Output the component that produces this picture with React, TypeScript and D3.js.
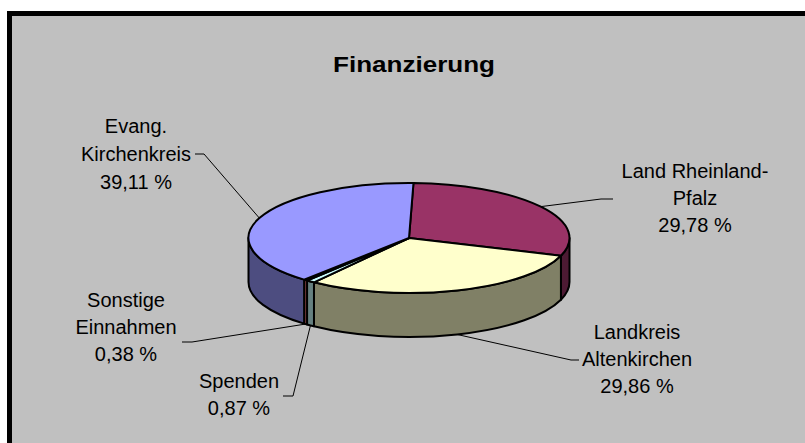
import React from "react";
import * as d3 from "d3";

const categories = ["Land Rheinland-Pfalz", "Landkreis Altenkirchen", "Spenden", "Sonstige Einnahmen", "Evang. Kirchenkreis"];
const values = [29.78, 29.86, 0.87, 0.38, 39.11];
const valueLabels = ["29,78 %", "29,86 %", "0,87 %", "0,38 %", "39,11 %"];
const nameLines = [["Land Rheinland-", "Pfalz"], ["Landkreis", "Altenkirchen"], ["Spenden"], ["Sonstige", "Einnahmen"], ["Evang.", "Kirchenkreis"]];
const colors = ["#993366", "#FFFFCC", "#CCFFFF", "#FF8080", "#9999FF"];
const title = "Finanzierung";

// layout (positions only)
const W = 805, H = 443;
const cx = 409, cy = 238, rx = 160.5, ry = 55, depth = 44;
const startDeg = 1.6;
const labelLayout = [
  { x: 695, y0: 178, dy: 27, lead: [[613, 199], [601, 199]], rim: "top" },
  { x: 637, y0: 339, dy: 27, lead: [[579, 360], [571, 360]], rim: "bottom" },
  { x: 239, y0: 388, dy: 27, lead: [[283, 396], [293, 396]], rim: "bottom" },
  { x: 126, y0: 307, dy: 27, lead: [[182, 342], [192, 342]], rim: "bottom" },
  { x: 136, y0: 133, dy: 28, lead: [[195, 154], [204, 154]], rim: "top" },
];

const pt = (t: number, dy = 0): [number, number] => [cx + rx * Math.sin(t), cy - ry * Math.cos(t) + dy];
const f = (p: [number, number]) => `${p[0].toFixed(2)},${p[1].toFixed(2)}`;

function darken(c: string) {
  const r = d3.rgb(c);
  return d3.rgb(r.r * 0.5, r.g * 0.5, r.b * 0.5).formatHex();
}

export default function App() {
  const s0 = (startDeg * Math.PI) / 180;
  const pie = d3.pie<number>().sort(null).startAngle(s0).endAngle(s0 + 2 * Math.PI);
  const arcs = pie(values);

  const front0 = Math.PI / 2, front1 = (3 * Math.PI) / 2;
  const sides: { d: string; fill: string }[] = [];
  arcs.forEach((a, i) => {
    // normalize into [0, 2pi) intervals possibly wrapping
    const segs: [number, number][] = [];
    for (const off of [0, -2 * Math.PI, 2 * Math.PI]) {
      const s = Math.max(a.startAngle + off, front0);
      const e = Math.min(a.endAngle + off, front1);
      if (e > s) segs.push([s, e]);
    }
    segs.forEach(([s, e]) => {
      const d = `M${f(pt(s))} A${rx},${ry} 0 0 1 ${f(pt(e))} L${f(pt(e, depth))} A${rx},${ry} 0 0 0 ${f(pt(s, depth))} Z`;
      sides.push({ d, fill: darken(colors[i]) });
    });
  });

  const tops = arcs.map((a, i) => {
    const large = a.endAngle - a.startAngle > Math.PI ? 1 : 0;
    const d = `M${cx},${cy} L${f(pt(a.startAngle))} A${rx},${ry} 0 ${large} 1 ${f(pt(a.endAngle))} Z`;
    return { d, fill: colors[i] };
  });

  const font = "'Liberation Sans', Arial, sans-serif";

  return (
    <svg width={W} height={H} style={{ position: "absolute", left: 0, top: 0 }} xmlns="http://www.w3.org/2000/svg">
      <rect x={0} y={0} width={W} height={H} fill="#ffffff" />
      <rect x={9.5} y={13.5} width={W + 50} height={H + 50} fill="#C0C0C0" stroke="#000" strokeWidth={5} />
      <text x={414} y={72} textAnchor="middle" fontFamily={font} fontWeight="bold" fontSize={21.5} textLength={162} lengthAdjust="spacingAndGlyphs" fill="#000">{title}</text>
      {sides.map((s, i) => (
        <path key={"s" + i} d={s.d} fill={s.fill} stroke="#000" strokeWidth={2} strokeLinejoin="round" />
      ))}
      {tops.map((t, i) => (
        <path key={"t" + i} d={t.d} fill={t.fill} stroke="#000" strokeWidth={2} strokeLinejoin="round" />
      ))}
      {arcs.map((a, i) => {
        const L = labelLayout[i];
        const mid = (a.startAngle + a.endAngle) / 2;
        const anchor = pt(mid, L.rim === "bottom" ? depth : 0);
        const pts = [...L.lead, anchor].map((p) => p.join(",")).join(" ");
        return <polyline key={"l" + i} points={pts} fill="none" stroke="#000" strokeWidth={1} />;
      })}
      {arcs.map((a, i) => {
        const L = labelLayout[i];
        const lines = [...nameLines[i], valueLabels[i]];
        return (
          <text key={"x" + i} textAnchor="middle" fontFamily={font} fontSize={20} fill="#000">
            {lines.map((ln, j) => (
              <tspan key={j} x={L.x} y={L.y0 + j * L.dy}>{ln}</tspan>
            ))}
          </text>
        );
      })}
    </svg>
  );
}
